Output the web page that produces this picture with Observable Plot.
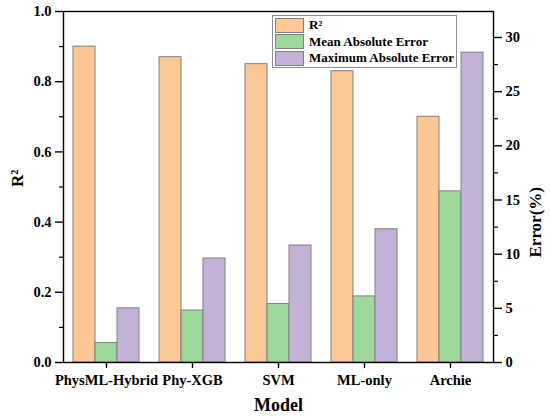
<!DOCTYPE html>
<html>
<head>
<meta charset="utf-8">
<script src="https://cdn.jsdelivr.net/npm/d3@7"></script>
<script src="https://cdn.jsdelivr.net/npm/@observablehq/plot@0.6"></script>
<style>
  body { margin: 0; background: #fff; }
  #wrap { position: relative; width: 550px; height: 419px; font-family: "Liberation Serif", "Times New Roman", serif; }
  #legend { position: absolute; left: 272px; top: 15px; width: 183px; height: 51px; border: 1px solid #8c8c8c; background: #fff; box-sizing: content-box; }
  .row { position: absolute; left: 2px; height: 14px; display: flex; align-items: center; }
  .sw { width: 27px; height: 13px; border: 1px solid #808080; margin-right: 5px; }
  .lab { font-size: 13px; font-weight: bold; color: #000; white-space: nowrap; }
</style>
</head>
<body>
<div id="wrap"></div>
<script>
const models = ["PhysML-Hybrid", "Phy-XGB", "SVM", "ML-only", "Archie"];
const r2 = [0.90, 0.87, 0.85, 0.83, 0.70];
const mae = [1.8, 4.8, 5.4, 6.1, 15.8];
const maxae = [5.0, 9.6, 10.8, 12.3, 28.6];
const metrics = ["R²", "Mean Absolute Error", "Maximum Absolute Error"];
const colors = ["#FBC795", "#9DD79C", "#C2B2D8"];
const r2Ticks = [0, 0.2, 0.4, 0.6, 0.8, 1.0];
const r2Minor = [0.1, 0.3, 0.5, 0.7, 0.9];
const errTicks = [0, 5, 10, 15, 20, 25, 30];
const errMinor = [2.5, 7.5, 12.5, 17.5, 22.5, 27.5];
const errMax = 32.4;

const data = models.flatMap((m, i) => [
  {model: m, metric: metrics[0], v: r2[i]},
  {model: m, metric: metrics[1], v: mae[i] / errMax},
  {model: m, metric: metrics[2], v: maxae[i] / errMax}
]);

const font = "'Liberation Serif', 'Times New Roman', serif";

const chart = Plot.plot({
  width: 550,
  height: 419,
  marginLeft: 61,
  marginRight: 55,
  marginTop: 11,
  marginBottom: 57,
  style: {fontFamily: font, fontWeight: "bold", color: "#000", background: "#fff"},
  fx: {domain: models, padding: 0, label: null},
  x: {domain: metrics, paddingInner: 0, paddingOuter: 0.37, axis: null},
  y: {domain: [0, 1], axis: null},
  color: {domain: metrics, range: colors},
  marks: [
    Plot.barY(data, {fx: "model", x: "metric", y: "v", fill: "metric", stroke: "#808080", strokeWidth: 1}),
    Plot.frame({facet: "super", stroke: "#000", strokeWidth: 1.4}),
    Plot.axisFx({anchor: "bottom", tickSize: 6, tickPadding: 6, fontSize: 14.5, fontWeight: "bold", label: null, strokeWidth: 1.4}),
    Plot.axisY({anchor: "left", ticks: r2Ticks, tickFormat: d3.format(".1f"), tickSize: 8, tickPadding: 4, fontSize: 14.5, fontWeight: "bold", label: null, strokeWidth: 1.4}),
    Plot.axisY({anchor: "left", ticks: r2Minor, tickFormat: () => "", tickSize: 4, label: null, strokeWidth: 1.2}),
    Plot.axisY({anchor: "right", ticks: errTicks.map(t => t / errMax), tickFormat: d => String(Math.round(d * errMax)), tickSize: 8, tickPadding: 4, fontSize: 14.5, fontWeight: "bold", label: null, strokeWidth: 1.4}),
    Plot.axisY({anchor: "right", ticks: errMinor.map(t => t / errMax), tickFormat: () => "", tickSize: 4, label: null, strokeWidth: 1.2}),
    Plot.text(["R²"], {facet: "super", frameAnchor: "left", rotate: -90, dx: -46, fontSize: 17, fontWeight: "bold", fill: "#000"}),
    Plot.text(["Error(%)"], {facet: "super", frameAnchor: "right", rotate: -90, dx: 42, fontSize: 17, fontWeight: "bold", fill: "#000"}),
    Plot.text(["Model"], {facet: "super", frameAnchor: "bottom", dy: 48, fontSize: 18, fontWeight: "bold", fill: "#000"})
  ]
});

const wrap = document.getElementById("wrap");
wrap.appendChild(chart);

const legend = document.createElement("div");
legend.id = "legend";
metrics.forEach((m, i) => {
  const row = document.createElement("div");
  row.className = "row";
  row.style.top = (2 + i * 16.7) + "px";
  const sw = document.createElement("div");
  sw.className = "sw";
  sw.style.background = colors[i];
  const lab = document.createElement("span");
  lab.className = "lab";
  lab.textContent = m;
  row.appendChild(sw);
  row.appendChild(lab);
  legend.appendChild(row);
});
wrap.appendChild(legend);
</script>
</body>
</html>
